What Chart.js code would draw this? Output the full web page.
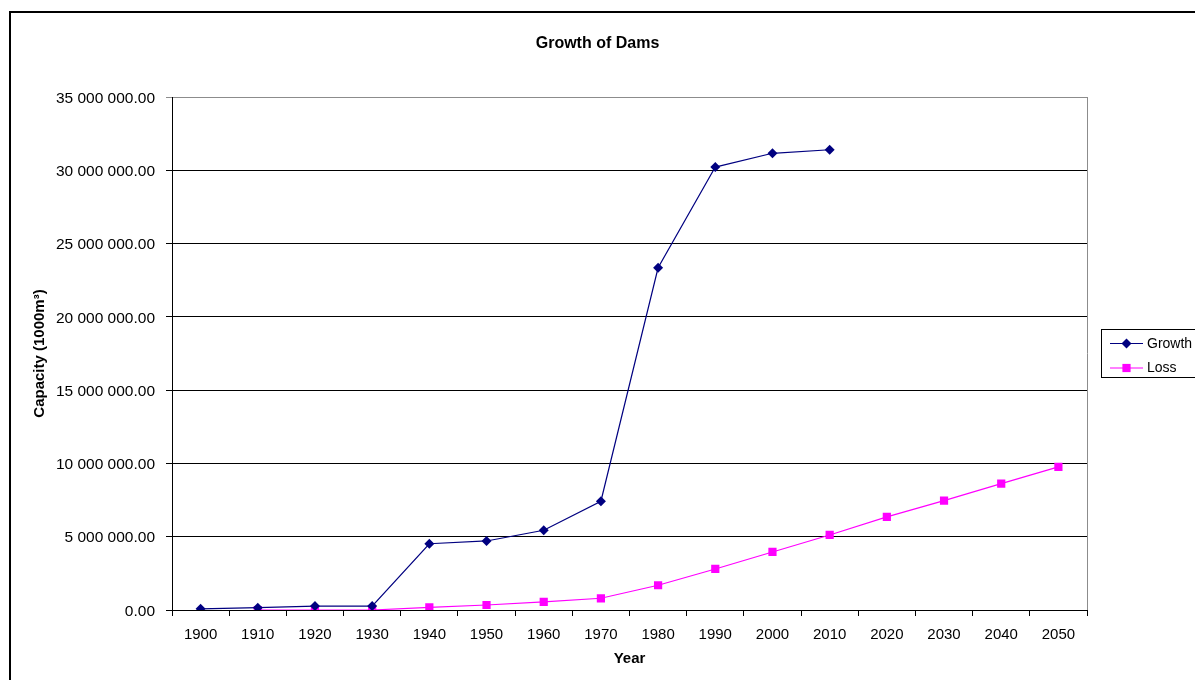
<!DOCTYPE html>
<html>
<head>
<meta charset="utf-8">
<title>Growth of Dams</title>
<script src="https://cdn.jsdelivr.net/npm/chart.js@4.4.1/dist/chart.umd.min.js"></script>
<style>
  html, body { margin: 0; padding: 0; background: #fff; }
  #wrap { width: 1195px; height: 680px; position: relative; }
</style>
</head>
<body>
<div id="wrap"><canvas id="chart" width="1195" height="680"></canvas></div>
<script>
// Decades on the category axis
const years = ['1900', '1910', '1920', '1930', '1940', '1950', '1960', '1970',
               '1980', '1990', '2000', '2010', '2020', '2030', '2040', '2050'];

// Cumulative dam storage capacity (1000 m³)
const growth = [80000, 157000, 270000, 270000, 4520000, 4710000, 5440000, 7420000,
                23350000, 30220000, 31160000, 31400000, null, null, null, null];

// Capacity lost to sedimentation (1000 m³)
const loss = [null, 0, 0, 0, 180000, 340000, 550000, 800000,
              1690000, 2800000, 3960000, 5120000, 6350000, 7460000, 8620000, 9760000];

// Value axis range and step
const yMin = 0;
const yMax = 35000000;
const yStep = 5000000;

const FONT = "'Liberation Sans', Arial, sans-serif";

// Two decimals, thousands grouped with a space
function formatCapacity(v) {
  const parts = Number(v).toFixed(2).split('.');
  parts[0] = parts[0].replace(/\B(?=(\d{3})+(?!\d))/g, ' ');
  return parts.join('.');
}

// Frame around the whole chart, plus the grey right edge of the plot
const framePlugin = {
  id: 'frame',
  beforeDraw(chart) {
    const ctx = chart.ctx;
    ctx.save();
    ctx.fillStyle = '#fff';
    ctx.fillRect(0, 0, chart.width, chart.height);
    ctx.strokeStyle = '#000';
    ctx.lineWidth = 2;
    ctx.strokeRect(10, 12, chart.width + 20, chart.height + 20);
    ctx.restore();
  },
  afterDatasetsDraw(chart) {
    const { ctx, chartArea: a } = chart;
    ctx.save();
    ctx.strokeStyle = '#8c8c8c';
    ctx.lineWidth = 1;
    ctx.beginPath();
    ctx.moveTo(Math.round(a.right) + 0.5, a.top);
    ctx.lineTo(Math.round(a.right) + 0.5, a.bottom);
    ctx.stroke();
    ctx.restore();
  }
};

// Boxed legend to the right of the plot
const boxLegendPlugin = {
  id: 'boxLegend',
  afterDraw(chart) {
    const ctx = chart.ctx;
    const x0 = 1101.5, y0 = 329.5, w = 120, h = 48;
    ctx.save();
    ctx.strokeStyle = '#000';
    ctx.lineWidth = 1;
    ctx.strokeRect(x0, y0, w, h);
    ctx.font = '14px ' + FONT;
    ctx.textBaseline = 'middle';
    ctx.textAlign = 'left';
    chart.data.datasets.forEach((ds, i) => {
      const y = 343 + i * 24.5;
      ctx.strokeStyle = ds.borderColor;
      ctx.lineWidth = 1;
      ctx.beginPath();
      ctx.moveTo(1110, y + 0.5);
      ctx.lineTo(1143, y + 0.5);
      ctx.stroke();
      ctx.fillStyle = ds.backgroundColor;
      const cx = 1126.5;
      ctx.beginPath();
      if (ds.pointStyle === 'rectRot') {
        const r = ds.pointRadius;
        ctx.moveTo(cx, y - r + 0.5);
        ctx.lineTo(cx + r, y + 0.5);
        ctx.lineTo(cx, y + r + 0.5);
        ctx.lineTo(cx - r, y + 0.5);
        ctx.closePath();
      } else {
        const s = ds.pointRadius * Math.SQRT1_2;
        ctx.rect(cx - s, y + 0.5 - s, 2 * s, 2 * s);
      }
      ctx.fill();
      ctx.fillStyle = '#000';
      ctx.fillText(ds.label, 1147, y + 1);
    });
    ctx.restore();
  }
};

new Chart(document.getElementById('chart'), {
  type: 'line',
  data: {
    labels: years,
    datasets: [
      {
        label: 'Growth',
        data: growth,
        borderColor: '#000080',
        backgroundColor: '#000080',
        borderWidth: 1.2,
        pointStyle: 'rectRot',
        pointRadius: 5,
        pointHoverRadius: 5,
        pointBorderWidth: 0,
        tension: 0,
        spanGaps: false
      },
      {
        label: 'Loss',
        data: loss,
        borderColor: '#ff00ff',
        backgroundColor: '#ff00ff',
        borderWidth: 1.2,
        pointStyle: 'rect',
        pointRadius: 5.8,
        pointHoverRadius: 5.8,
        pointBorderWidth: 0,
        tension: 0,
        spanGaps: false
      }
    ]
  },
  options: {
    responsive: false,
    animation: false,
    events: [],
    layout: { padding: 0 },
    plugins: {
      legend: { display: false },
      tooltip: { enabled: false },
      title: {
        display: true,
        text: 'Growth of Dams',
        color: '#000',
        font: { family: FONT, size: 16, weight: 'bold', lineHeight: 1.2 },
        padding: { top: 33.9, bottom: 43.9 }
      }
    },
    scales: {
      x: {
        type: 'category',
        offset: true,
        grid: {
          offset: true,
          drawOnChartArea: false,
          drawTicks: true,
          tickLength: 6,
          color: '#000',
          lineWidth: 1
        },
        border: { display: true, color: '#000', width: 1 },
        ticks: {
          color: '#000',
          font: { family: FONT, size: 15 },
          padding: 10,
          maxRotation: 0,
          autoSkip: false
        },
        title: {
          display: true,
          text: 'Year',
          color: '#000',
          font: { family: FONT, size: 15, weight: 'bold', lineHeight: 1.2 },
          padding: { top: 0, bottom: 12 }
        },
        afterFit(scale) { scale.height = 70; }
      },
      y: {
        type: 'linear',
        position: 'left',
        min: yMin,
        max: yMax,
        grid: {
          drawTicks: true,
          tickLength: 6,
          lineWidth: 1,
          color: (ctx) => (ctx.tick && ctx.tick.value === yMax ? '#8c8c8c' : '#000')
        },
        border: { display: true, color: '#000', width: 1 },
        ticks: {
          stepSize: yStep,
          color: '#000',
          font: { family: FONT, size: 15.5 },
          padding: 11,
          labelOffset: 1.5,
          callback: (v) => formatCapacity(v)
        },
        title: {
          display: true,
          text: 'Capacity (1000m³)',
          color: '#000',
          font: { family: FONT, size: 15, weight: 'bold', lineHeight: 1.2 },
          padding: { top: 31, bottom: 0 }
        },
        afterFit(scale) { scale.width = 172; }
      },
      legendSpace: {
        type: 'linear',
        position: 'right',
        display: true,
        grid: { display: false, drawTicks: false },
        border: { display: false },
        ticks: { display: false },
        afterFit(scale) { scale.width = 108; }
      }
    }
  },
  plugins: [framePlugin, boxLegendPlugin]
});
</script>
</body>
</html>
